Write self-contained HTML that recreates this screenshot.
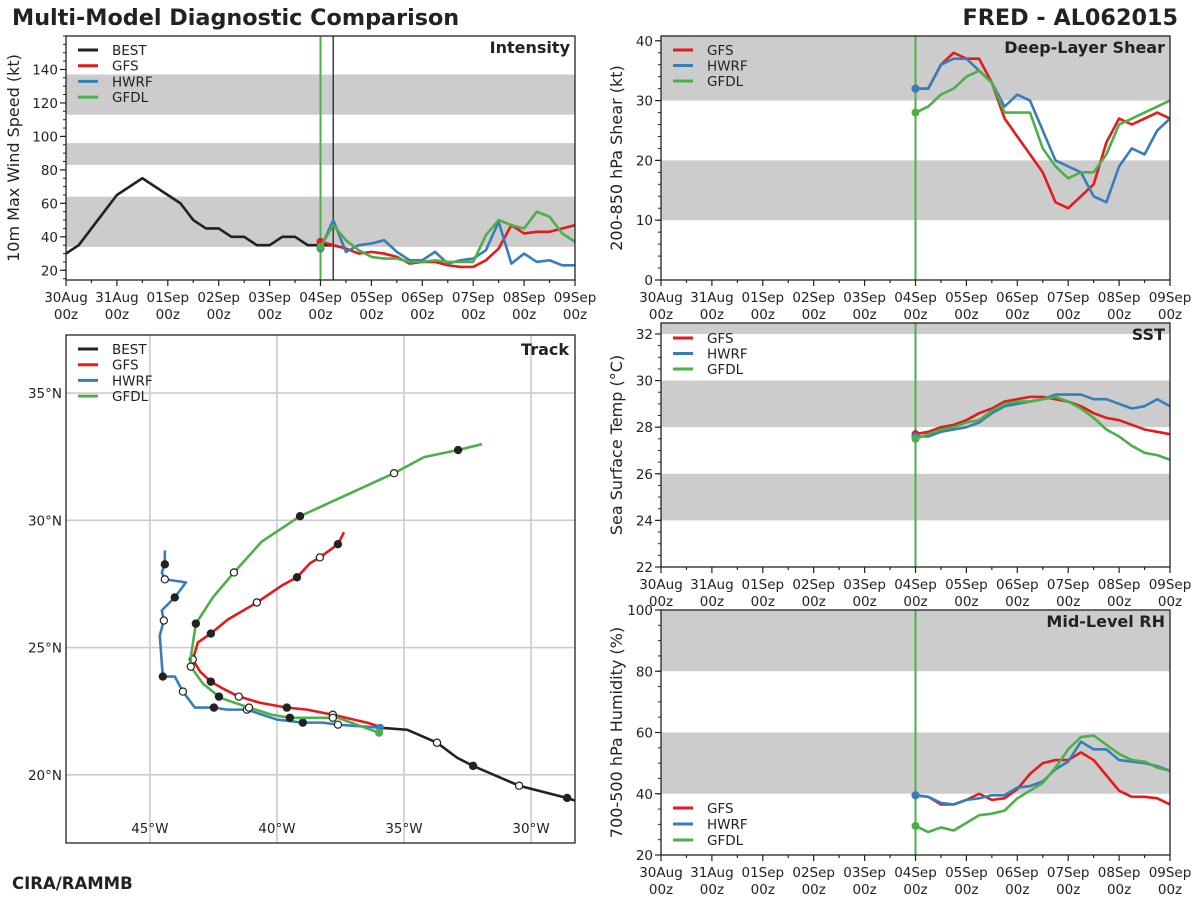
<!DOCTYPE html>
<html><head><meta charset="utf-8">
<style>
body{margin:0;background:#fff;}
svg{display:block;font-family:"DejaVu Sans","Liberation Sans",sans-serif;}
</style></head>
<body>
<svg id="chart" width="1200" height="900" viewBox="0 0 1200 900">
<text x="12" y="25" font-size="22.3" font-weight="bold" fill="#222">Multi-Model Diagnostic Comparison</text>
<text x="1178" y="25" font-size="22.3" font-weight="bold" fill="#222" text-anchor="end">FRED - AL062015</text>
<text x="12" y="889" font-size="16.5" font-weight="bold" fill="#222">CIRA/RAMMB</text>
</svg>
<script>
// ---------- data ----------
const dayLabels = ["30Aug","31Aug","01Sep","02Sep","03Sep","04Sep","05Sep","06Sep","07Sep","08Sep","09Sep"];
const modelNames = ["GFS","HWRF","GFDL"];
const bestT = [0,0.25,0.5,0.75,1,1.25,1.5,1.75,2,2.25,2.5,2.75,3,3.25,3.5,3.75,4,4.25,4.5,4.75,5,5.25];
const bestV = [30,35,45,55,65,70,75,70,65,60,50,45,45,40,40,35,35,40,40,35,35,35];
const intGFS  = [37,35,33,30,31,30,28,24,25,25,23,22,22,26,33,47,42,43,43,45,47];
const intHWRF = [33,50,31,35,36,38,31,26,26,31,24,26,27,32,49,24,30,25,26,23,23];
const intGFDL = [34,47,38,32,28,27,27,25,25,26,25,25,25,41,50,47,45,55,52,42,37];
const shrGFS  = [32,32,36,38,37,37,33,27,24,21,18,13,12,14,16,23,27,26,27,28,27];
const shrHWRF = [32,32,36,37,37,35,33,29,31,30,25,20,19,18,14,13,19,22,21,25,27];
const shrGFDL = [28,29,31,32,34,35,33,28,28,28,22,19,17,18,18,21,26,27,28,29,30];
const sstGFS  = [27.7,27.8,28.0,28.1,28.3,28.6,28.8,29.1,29.2,29.3,29.3,29.2,29.1,28.9,28.6,28.4,28.3,28.1,27.9,27.8,27.7];
const sstHWRF = [27.6,27.6,27.8,27.9,28.0,28.2,28.6,28.9,29.0,29.1,29.2,29.4,29.4,29.4,29.2,29.2,29.0,28.8,28.9,29.2,28.9];
const sstGFDL = [27.5,27.7,27.9,28.0,28.2,28.3,28.7,29.0,29.1,29.1,29.2,29.3,29.1,28.8,28.4,27.9,27.6,27.2,26.9,26.8,26.6];
const rhGFS  = [39.5,39,36.5,36.5,38,40,38,38.5,41.5,46.5,50,51,51,53.5,51,46,41,39,39,38.5,36.5];
const rhHWRF = [39.5,39,37,36.5,38,38.5,39.5,39.5,42,42.5,44,48,50.5,57,54.5,54.5,51,50.5,50,49,47.5];
const rhGFDL = [29.5,27.5,29,28,30.5,33,33.5,34.5,38.5,41,43.5,48.5,54.5,58.5,59,56,53,51,50.5,48.5,47.5];
// track (lon, lat, marker: 0 none, 1 open, 2 filled)
const trkBestLon = [-35.94,-34.88,-33.70,-32.91,-32.28,-30.47,-28.58,-27.68];
const trkBestLat = [21.85,21.77,21.26,20.67,20.35,19.57,19.09,18.78];
const trkBestMk  = [0,0,1,0,2,1,2,0];
const trkGFSLon = [-35.83,-36.46,-37.80,-38.82,-39.61,-40.67,-41.34,-41.50,-42.13,-42.60,-43.03,-43.31,-43.11,-42.60,-41.93,-40.79,-39.80,-39.21,-38.70,-38.31,-37.60,-37.36];
const trkGFSLat = [21.85,22.05,22.36,22.56,22.64,22.83,23.03,23.07,23.39,23.66,24.06,24.53,25.20,25.55,26.10,26.77,27.44,27.76,28.31,28.54,29.06,29.53];
const trkGFSMk  = [0,0,1,0,2,0,0,1,0,2,0,1,0,2,0,1,0,2,0,1,2,0];
const trkHWRFLon = [-35.94,-37.60,-38.19,-38.98,-40.00,-41.18,-41.97,-42.48,-43.23,-43.70,-44.02,-44.49,-44.61,-44.45,-44.53,-44.02,-43.58,-44.41,-44.53,-44.41,-44.41];
const trkHWRFLat = [21.85,21.97,22.05,22.05,22.17,22.56,22.56,22.64,22.64,23.27,23.86,23.86,25.47,26.06,26.46,26.97,27.56,27.68,27.95,28.27,28.82];
const trkHWRFMk  = [0,1,0,2,0,1,0,2,0,1,0,2,0,1,0,2,0,1,0,2,0];
const trkGFDLLon = [-35.98,-37.60,-37.80,-39.49,-40.20,-41.10,-42.13,-42.28,-42.91,-43.39,-43.39,-43.19,-42.52,-41.69,-40.59,-39.09,-35.39,-34.21,-32.87,-31.93];
const trkGFDLLat = [21.65,22.24,22.24,22.24,22.36,22.64,22.99,23.07,23.58,24.25,24.61,25.94,26.97,27.95,29.17,30.16,31.85,32.48,32.76,32.99];
const trkGFDLMk  = [0,0,1,2,0,1,0,2,0,1,0,2,0,1,0,2,1,0,2,0];
const lonTicks = [-45,-40,-35,-30];
const latTicks = [20,25,30,35];

// ---------- helpers ----------
const NS="http://www.w3.org/2000/svg";
const svg=document.getElementById('chart');
const COL={BEST:"#222222",GFS:"#e41a1c",HWRF:"#377eb8",GFDL:"#4daf4a"};
function mk(tag,attrs,parent){const e=document.createElementNS(NS,tag);for(const k in attrs)e.setAttribute(k,attrs[k]);(parent||svg).appendChild(e);return e;}
const INIT_DAY=5;
const modelT=[];for(let i=0;i<21;i++)modelT.push(INIT_DAY+i*0.25);

function timePanel(cfg){
  const g=mk('g',{});
  
  
  const {x0,x1,y0,y1,ymin,ymax}=cfg;
  const X=d=>x0+(x1-x0)*d/10;
  const Y=v=>y1-(y1-y0)*(v-ymin)/(ymax-ymin);
  const clipId='clip-'+cfg.name;
  const cp=mk('clipPath',{id:clipId},g);mk('rect',{x:x0,y:y0,width:x1-x0,height:y1-y0},cp);
  cfg.bands.forEach(b=>{
    const r=mk('rect',{x:x0,y:Y(Math.min(b[1],ymax)),width:x1-x0,height:Y(b[0])-Y(Math.min(b[1],ymax)),fill:"#cccccc"},g);
    
    
  });
  const vl=mk('line',{x1:X(INIT_DAY),x2:X(INIT_DAY),y1:y0,y2:y1,stroke:"#4daf4a","stroke-width":2},g);
  
  
  if(cfg.nowLine){const nl=mk('line',{x1:X(INIT_DAY+0.25),x2:X(INIT_DAY+0.25),y1:y0,y2:y1,stroke:"#222","stroke-width":1.3},g);
    
    }
  const lg=mk('g',{'clip-path':'url(#'+clipId+')'},g);
  function series(name,T,V){
    const s=mk('polyline',{points:T.map((t,i)=>X(t)+','+Y(V[i])).join(' '),fill:'none',stroke:COL[name],'stroke-width':2.6,'stroke-linejoin':'round'},lg);
    
    
    if(name!=='BEST'){const c=mk('circle',{cx:X(T[0]),cy:Y(V[0]),r:4,fill:COL[name]},lg);
      
      }
  }
  if(cfg.best)series('BEST',bestT,bestV);
  cfg.series.forEach((v,i)=>series(modelNames[i],modelT,v));
  mk('rect',{x:x0,y:y0,width:x1-x0,height:y1-y0,fill:'none',stroke:'#222','stroke-width':1.3},g);
  for(let v=Math.ceil(ymin/cfg.minor)*cfg.minor;v<=ymax+1e-9;v+=cfg.minor){
    mk('line',{x1:x0-3,x2:x0,y1:Y(v),y2:Y(v),stroke:'#222','stroke-width':1},g);
  }
  cfg.yticks.forEach(v=>{
    mk('line',{x1:x0-6,x2:x0,y1:Y(v),y2:Y(v),stroke:'#222','stroke-width':1.2},g);
    const t=mk('text',{x:x0-8,y:Y(v)+5,'font-size':13.5,'text-anchor':'end',fill:'#222'},g);t.textContent=v;
    
    
  });
  for(let d=0;d<=10;d+=0.5){const mj=(d%1===0);
    mk('line',{x1:X(d),x2:X(d),y1:y1,y2:y1+(mj?6:3),stroke:'#222','stroke-width':1.2},g);}
  dayLabels.forEach((l,i)=>{
    const t=mk('text',{x:X(i),y:y1+22,'font-size':13.5,'text-anchor':'middle',fill:'#222'},g);t.textContent=l;
    
    
    const t2=mk('text',{x:X(i),y:y1+39,'font-size':13.5,'text-anchor':'middle',fill:'#222'},g);t2.textContent='00z';
    
    
  });
  const yl=mk('text',{x:0,y:0,'font-size':16,'text-anchor':'middle',fill:'#222',transform:`translate(${cfg.ylx},${(y0+y1)/2}) rotate(-90)`},g);
  yl.textContent=cfg.ylabel;
  
  
  const tt=mk('text',{x:x1-5,y:y0+17,'font-size':16,'font-weight':'bold','text-anchor':'end',fill:'#222'},g);
  tt.textContent=cfg.title;
  
  
  legend(g,x0+12,cfg.legY,(cfg.best?['BEST']:[]).concat(modelNames),cfg.legStep);
}
function legend(g,x,y,names,step){
  names.forEach((n,i)=>{
    const e=mk('g',{},g);
    
    
    mk('line',{x1:x,x2:x+20,y1:y+i*step,y2:y+i*step,stroke:COL[n],'stroke-width':3},e);
    const t=mk('text',{x:x+34,y:y+i*step+5,'font-size':13.5,fill:'#222'},e);t.textContent=n;
  });
}

timePanel({name:'intensity',x0:66,x1:575,y0:36,y1:280,ymin:14.2,ymax:160,bands:[[34,64],[83,96],[113,137]],
  yticks:[20,40,60,80,100,120,140],minor:5,ylabel:'10m Max Wind Speed (kt)',ylx:19,title:'Intensity',best:true,nowLine:true,
  series:[intGFS,intHWRF,intGFDL],legY:50,legStep:15.7});
timePanel({name:'shear',x0:661,x1:1170,y0:36,y1:280,ymin:0,ymax:40.8,bands:[[10,20],[30,41]],
  yticks:[0,10,20,30,40],minor:2,ylabel:'200-850 hPa Shear (kt)',ylx:622,title:'Deep-Layer Shear',
  series:[shrGFS,shrHWRF,shrGFDL],legY:50,legStep:15.5});
timePanel({name:'sst',x0:661,x1:1170,y0:323,y1:567,ymin:22,ymax:32.47,bands:[[24,26],[28,30],[32,33]],
  yticks:[22,24,26,28,30,32],minor:0.5,ylabel:'Sea Surface Temp (°C)',ylx:622,title:'SST',
  series:[sstGFS,sstHWRF,sstGFDL],legY:338,legStep:15.5});
timePanel({name:'rh',x0:661,x1:1170,y0:610,y1:855,ymin:20,ymax:100,bands:[[40,60],[80,100]],
  yticks:[20,40,60,80,100],minor:5,ylabel:'700-500 hPa Humidity (%)',ylx:622,title:'Mid-Level RH',
  series:[rhGFS,rhHWRF,rhGFDL],legY:808,legStep:16});

// ---------- track ----------
(function(){
  const x0=66,x1=575,y0=335,y1=843;
  const lonMin=-48.3,lonMax=-28.27,latMin=17.32,latMax=37.28;
  const X=l=>x0+(x1-x0)*(l-lonMin)/(lonMax-lonMin);
  const Y=l=>y1-(y1-y0)*(l-latMin)/(latMax-latMin);
  const g=mk('g',{});
  
  
  const cp=mk('clipPath',{id:'clip-track'},g);mk('rect',{x:x0,y:y0,width:x1-x0,height:y1-y0},cp);
  const inner=mk('g',{'clip-path':'url(#clip-track)'},g);
  lonTicks.forEach(l=>{mk('line',{x1:X(l),x2:X(l),y1:y0,y2:y1,stroke:'#cccccc','stroke-width':1.6},inner);
    const t=mk('text',{x:X(l),y:833,'font-size':13.5,'text-anchor':'middle',fill:'#222'},g);t.textContent=Math.abs(l)+'°W';
    
    });
  latTicks.forEach(l=>{mk('line',{x1:x0,x2:x1,y1:Y(l),y2:Y(l),stroke:'#cccccc','stroke-width':1.6},inner);
    const t=mk('text',{x:62,y:Y(l)+5,'font-size':13.5,'text-anchor':'end',fill:'#222'},g);t.textContent=l+'°N';
    
    });
  function track(name,LON,LAT,MK){
    const p=mk('polyline',{points:LON.map((l,i)=>X(l)+','+Y(LAT[i])).join(' '),fill:'none',stroke:COL[name],'stroke-width':2.6,'stroke-linejoin':'round'},inner);
    
    
    MK.forEach((m,i)=>{if(!m)return;
      const c=mk('circle',{cx:X(LON[i]),cy:Y(LAT[i]),r:3.6,fill:m===2?'#222':'#fff',stroke:'#222','stroke-width':1.2},inner);
      
      });
  }
  track('BEST',trkBestLon,trkBestLat,trkBestMk);
  track('GFS',trkGFSLon,trkGFSLat,trkGFSMk);
  track('HWRF',trkHWRFLon,trkHWRFLat,trkHWRFMk);
  track('GFDL',trkGFDLLon,trkGFDLLat,trkGFDLMk);
  [['HWRF',trkHWRFLon,trkHWRFLat],['GFDL',trkGFDLLon,trkGFDLLat]].forEach(s=>{
    const c=mk('circle',{cx:X(s[1][0]),cy:Y(s[2][0]),r:4,fill:COL[s[0]]},inner);
    
    });
  mk('rect',{x:x0,y:y0,width:x1-x0,height:y1-y0,fill:'none',stroke:'#222','stroke-width':1.3},g);
  const tt=mk('text',{x:x1-6,y:y0+20,'font-size':16,'font-weight':'bold','text-anchor':'end',fill:'#222'},g);
  tt.textContent='Track';
  
  
  legend(g,78,349,['BEST','GFS','HWRF','GFDL'],15.7);
})();
</script>
</body></html>
